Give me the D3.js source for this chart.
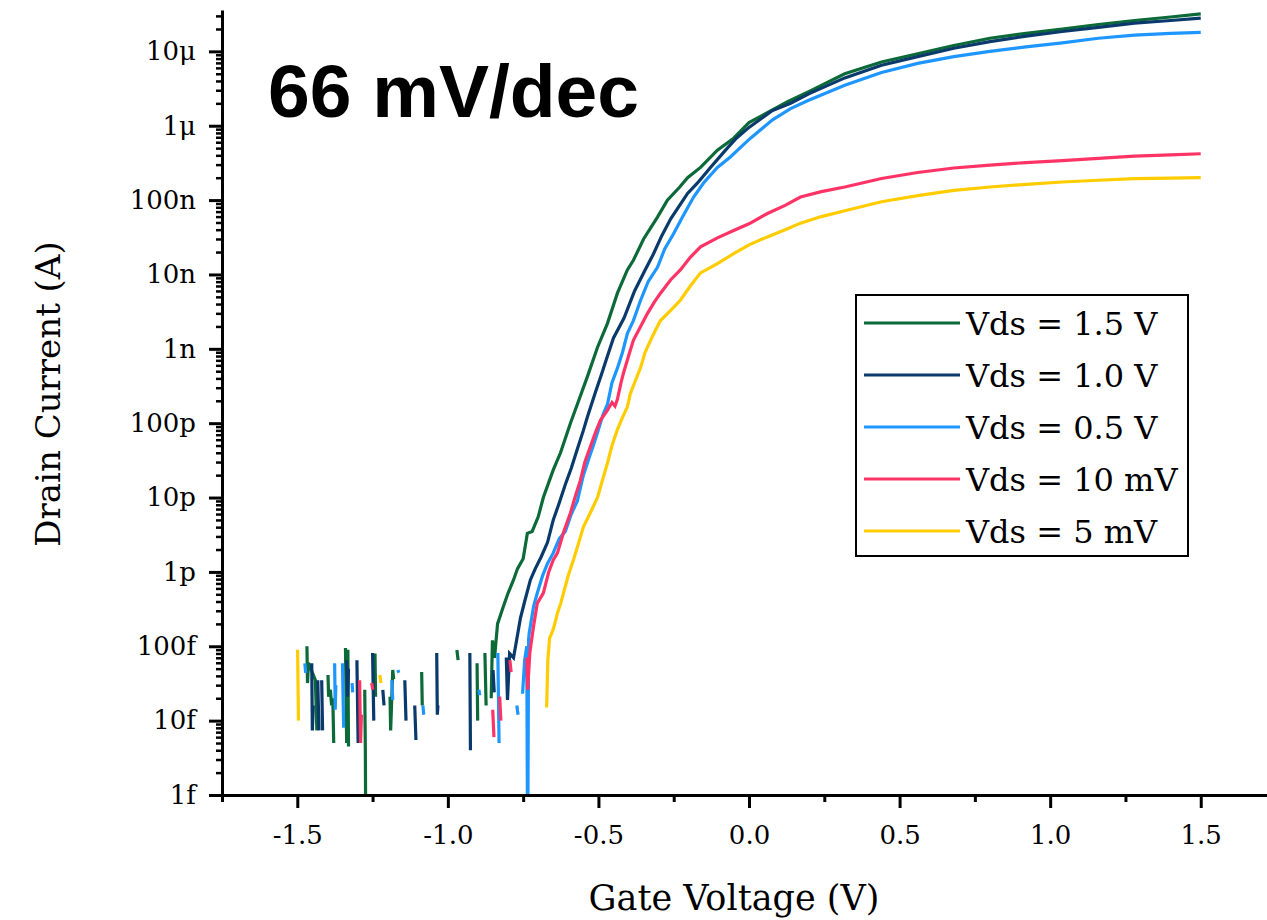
<!DOCTYPE html>
<html>
<head>
<meta charset="utf-8">
<script src="https://cdn.jsdelivr.net/npm/d3@7"></script>
<style>
  body { margin: 0; background: #fff; }
  .axis path, .axis line { stroke: #000; }
  .axis text { font-family: "DejaVu Serif", serif; fill: #000; }
</style>
</head>
<body>
<div id="chart"></div>
<script>
// [gate voltage (V), drain current (A)]; null = gap in the trace
var vds15 = [
  [-1.468, 1.0e-13], [-1.466, 3.2e-14], [-1.463, 6.0e-14], [-1.440, 3.5e-14], [-1.435, 7.4e-15], null,
  [-1.398, 4.1e-14], [-1.396, 2.1e-14], [-1.390, 2.6e-14], [-1.386, 1.6e-14], [-1.382, 2.0e-14], [-1.379, 5.0e-15], null,
  [-1.340, 9.5e-14], [-1.338, 2.0e-14], [-1.336, 5.0e-15], null,
  [-1.332, 9.0e-14], [-1.330, 4.5e-15], null,
  [-1.276, 2.6e-14], [-1.274, 4.0e-15], [-1.272, 1e-16], null,
  [-1.242, 8.0e-14], [-1.240, 2.1e-14], null,
  [-1.192, 2.1e-14], [-1.190, 7.4e-15], [-1.183, 4.8e-14], [-1.180, 3.6e-14], null,
  [-1.087, 4.5e-14], [-1.085, 1.6e-14], null,
  [-0.970, 8.9e-14], [-0.966, 6.5e-14], null,
  [-0.903, 5.9e-14], [-0.901, 1.0e-14], null,
  [-0.877, 8.1e-14], [-0.873, 1.6e-14], null,
  [-0.856, 2.0e-14], [-0.852, 1.2e-13], [-0.845, 7.0e-14], [-0.835, 2.0e-13], [-0.816, 3.4e-13],
  [-0.800, 5.2e-13], [-0.782, 7.8e-13], [-0.769, 1.1e-12], [-0.750, 1.5e-12], [-0.736, 3.3e-12],
  [-0.720, 3.5e-12], [-0.700, 5.5e-12], [-0.683, 1.0e-11], [-0.650, 2.35e-11], [-0.626, 4.0e-11],
  [-0.593, 1.0e-10], [-0.570, 1.8e-10], [-0.537, 4.2e-10], [-0.503, 1.05e-9], [-0.470, 2.2e-9],
  [-0.437, 5.6e-9], [-0.404, 1.15e-8], [-0.384, 1.55e-8], [-0.350, 3.0e-8], [-0.304, 5.9e-8],
  [-0.271, 1.0e-7], [-0.230, 1.5e-7], [-0.204, 2.0e-7], [-0.161, 2.75e-7], [-0.105, 4.7e-7],
  [-0.051, 6.8e-7], [0.000, 1.1e-6], [0.061, 1.5e-6], [0.128, 2.1e-6], [0.200, 2.9e-6],
  [0.318, 5.0e-6], [0.440, 7.2e-6], [0.560, 9.3e-6], [0.680, 1.2e-5], [0.800, 1.5e-5],
  [0.920, 1.75e-5], [1.040, 2.0e-5], [1.160, 2.3e-5], [1.280, 2.6e-5], [1.400, 2.9e-5], [1.500, 3.2e-5]
];
var vds10 = [
  [-1.452, 5.9e-14], [-1.450, 7.4e-15], [-1.447, 1.6e-14], null,
  [-1.432, 3.5e-14], [-1.428, 7.4e-15], null,
  [-1.419, 3.5e-14], [-1.416, 7.4e-15], null,
  [-1.336, 6.5e-14], [-1.333, 2.1e-14], [-1.330, 5.0e-14], null,
  [-1.302, 6.5e-14], [-1.298, 5.0e-15], null,
  [-1.250, 8.1e-14], [-1.246, 1.0e-14], null,
  [-1.216, 2.6e-14], [-1.212, 1.6e-14], null,
  [-1.143, 3.5e-14], [-1.139, 1.0e-14], null,
  [-1.110, 1.6e-14], [-1.106, 5.5e-15], null,
  [-1.037, 8.1e-14], [-1.035, 1.2e-14], [-1.033, 1.6e-14], null,
  [-0.927, 8.1e-14], [-0.925, 4.0e-15], null,
  [-0.850, 4.8e-14], [-0.846, 2.4e-14], null,
  [-0.806, 7.1e-14], [-0.802, 1.9e-14], [-0.795, 8.0e-14], [-0.782, 7.0e-14], [-0.769, 1.4e-13],
  [-0.759, 2.4e-13], [-0.745, 4.0e-13], [-0.726, 7.8e-13], [-0.710, 1.1e-12], [-0.690, 1.6e-12],
  [-0.669, 2.5e-12], [-0.650, 5.0e-12], [-0.630, 8.5e-12], [-0.610, 1.5e-11], [-0.590, 2.5e-11],
  [-0.570, 4.5e-11], [-0.550, 8.0e-11], [-0.537, 1.2e-10], [-0.510, 2.6e-10], [-0.490, 4.5e-10],
  [-0.470, 8.0e-10], [-0.450, 1.4e-9], [-0.415, 2.6e-9], [-0.380, 6.0e-9], [-0.345, 1.15e-8],
  [-0.317, 1.9e-8], [-0.290, 3.3e-8], [-0.260, 5.6e-8], [-0.204, 1.23e-7], [-0.171, 1.7e-7],
  [-0.128, 2.75e-7], [-0.078, 4.7e-7], [-0.042, 6.8e-7], [0.000, 9.5e-7], [0.078, 1.6e-6],
  [0.138, 2.0e-6], [0.200, 2.7e-6], [0.318, 4.4e-6], [0.440, 6.5e-6], [0.560, 8.5e-6],
  [0.680, 1.1e-5], [0.800, 1.35e-5], [0.920, 1.6e-5], [1.040, 1.85e-5], [1.160, 2.1e-5],
  [1.280, 2.4e-5], [1.400, 2.6e-5], [1.500, 2.8e-5]
];
var vds05 = [
  [-1.475, 5.9e-14], [-1.472, 4.4e-14], null,
  [-1.376, 5.9e-14], [-1.374, 1.4e-14], [-1.372, 3.0e-14], null,
  [-1.350, 5.9e-14], [-1.346, 8.0e-15], null,
  [-1.318, 3.2e-14], [-1.316, 2.4e-14], null,
  [-1.186, 3.5e-14], [-1.183, 1.9e-14], null,
  [-1.166, 4.8e-14], [-1.163, 4.4e-14], null,
  [-1.083, 1.6e-14], [-1.080, 1.2e-14], null,
  [-0.897, 2.6e-14], [-0.894, 2.2e-14], null,
  [-0.834, 8.1e-14], [-0.830, 5.0e-15], null,
  [-0.771, 1.6e-14], [-0.767, 1.2e-14], null,
  [-0.752, 2.3e-14], [-0.745, 6.5e-14], [-0.738, 1.0e-13], [-0.735, 1e-16], [-0.732, 1.2e-13],
  [-0.730, 1.5e-13], [-0.715, 3.5e-13], [-0.703, 5.2e-13], [-0.685, 9.0e-13], [-0.669, 1.3e-12],
  [-0.650, 1.8e-12], [-0.630, 2.8e-12], [-0.610, 3.5e-12], [-0.590, 6.0e-12], [-0.570, 9.0e-12],
  [-0.550, 2.0e-11], [-0.530, 3.5e-11], [-0.517, 5.0e-11], [-0.503, 7.5e-11], [-0.485, 1.3e-10],
  [-0.470, 1.8e-10], [-0.455, 3.5e-10], [-0.437, 5.5e-10], [-0.420, 9.0e-10], [-0.404, 1.6e-9],
  [-0.384, 2.4e-9], [-0.360, 4.5e-9], [-0.335, 8.0e-9], [-0.304, 1.25e-8], [-0.280, 2.2e-8],
  [-0.251, 3.5e-8], [-0.220, 6.0e-8], [-0.184, 1.1e-7], [-0.151, 1.7e-7], [-0.105, 2.75e-7],
  [-0.062, 3.8e-7], [-0.020, 5.5e-7], [0.005, 6.8e-7], [0.078, 1.2e-6], [0.138, 1.7e-6],
  [0.198, 2.2e-6], [0.318, 3.5e-6], [0.440, 5.2e-6], [0.560, 6.9e-6], [0.680, 8.5e-6],
  [0.800, 1.0e-5], [0.920, 1.15e-5], [1.040, 1.3e-5], [1.160, 1.5e-5], [1.280, 1.65e-5],
  [1.400, 1.75e-5], [1.500, 1.8e-5]
];
var vds10m = [
  [-1.293, 3.5e-14], [-1.290, 5.0e-15], [-1.287, 1.2e-14], null,
  [-1.253, 3.2e-14], [-1.249, 2.6e-14], null,
  [-0.851, 1.4e-14], [-0.847, 6.0e-15], null,
  [-0.828, 2.1e-14], [-0.824, 1.0e-14], null,
  [-0.794, 6.5e-14], [-0.790, 4.5e-14], null,
  [-0.738, 7.1e-14], [-0.735, 2.6e-14], [-0.728, 8.1e-14], [-0.716, 1.8e-13], [-0.703, 3.8e-13],
  [-0.683, 5.2e-13], [-0.665, 1.0e-12], [-0.650, 1.45e-12], [-0.636, 1.8e-12], [-0.615, 3.5e-12],
  [-0.593, 6.2e-12], [-0.575, 1.1e-11], [-0.560, 1.7e-11], [-0.545, 3.0e-11], [-0.527, 4.8e-11],
  [-0.510, 7.5e-11], [-0.493, 1.1e-10], [-0.470, 1.5e-10], [-0.455, 1.9e-10], [-0.445, 1.7e-10],
  [-0.437, 2.1e-10], [-0.425, 3.5e-10], [-0.417, 4.7e-10], [-0.400, 8.0e-10], [-0.384, 1.3e-9],
  [-0.360, 2.0e-9], [-0.337, 3.0e-9], [-0.315, 4.2e-9], [-0.294, 5.6e-9], [-0.260, 8.5e-9],
  [-0.228, 1.15e-8], [-0.195, 1.7e-8], [-0.161, 2.35e-8], [-0.105, 3.1e-8], [-0.051, 3.9e-8],
  [0.000, 4.8e-8], [0.061, 6.6e-8], [0.120, 8.5e-8], [0.171, 1.1e-7], [0.240, 1.3e-7],
  [0.318, 1.5e-7], [0.440, 1.95e-7], [0.560, 2.35e-7], [0.680, 2.7e-7], [0.800, 2.95e-7],
  [0.920, 3.2e-7], [1.040, 3.4e-7], [1.160, 3.65e-7], [1.280, 3.9e-7], [1.400, 4.05e-7], [1.500, 4.2e-7]
];
var vds5m = [
  [-1.499, 9.0e-14], [-1.496, 1.0e-14], null,
  [-1.226, 4.1e-14], [-1.222, 3.2e-14], null,
  [-0.672, 1.5e-14], [-0.668, 6.5e-14], [-0.662, 1.3e-13], [-0.655, 1.5e-13], [-0.648, 1.8e-13],
  [-0.636, 2.8e-13], [-0.625, 3.8e-13], [-0.616, 5.2e-13], [-0.600, 9.0e-13], [-0.583, 1.45e-12],
  [-0.565, 2.5e-12], [-0.550, 4.0e-12], [-0.525, 6.5e-12], [-0.503, 1.0e-11], [-0.485, 1.8e-11],
  [-0.470, 2.9e-11], [-0.455, 5.0e-11], [-0.437, 8.2e-11], [-0.420, 1.2e-10], [-0.404, 1.65e-10],
  [-0.394, 2.5e-10], [-0.380, 3.5e-10], [-0.360, 5.6e-10], [-0.345, 9.0e-10], [-0.327, 1.3e-9],
  [-0.310, 1.8e-9], [-0.294, 2.4e-9], [-0.260, 3.3e-9], [-0.228, 4.5e-9], [-0.195, 7.0e-9],
  [-0.161, 1.05e-8], [-0.105, 1.4e-8], [-0.051, 1.9e-8], [0.000, 2.5e-8], [0.061, 3.2e-8],
  [0.120, 4.0e-8], [0.171, 4.9e-8], [0.240, 6.0e-8], [0.318, 7.2e-8], [0.440, 9.5e-8],
  [0.560, 1.15e-7], [0.680, 1.35e-7], [0.800, 1.5e-7], [0.920, 1.63e-7], [1.040, 1.75e-7],
  [1.160, 1.85e-7], [1.280, 1.95e-7], [1.400, 1.98e-7], [1.500, 2.0e-7]
];

var seriesData = [vds15, vds10, vds05, vds10m, vds5m];
var seriesNames = ["Vds = 1.5 V", "Vds = 1.0 V", "Vds = 0.5 V", "Vds = 10 mV", "Vds = 5 mV"];
var seriesColors = ["#0b6a38", "#0a3a6c", "#1e96ff", "#ff3366", "#ffcc00"];

var yTickValues = [1e-15, 1e-14, 1e-13, 1e-12, 1e-11, 1e-10, 1e-9, 1e-8, 1e-7, 1e-6, 1e-5];
var yTickLabels = ["1f", "10f", "100f", "1p", "10p", "100p", "1n", "10n", "100n", "1\u03bc", "10\u03bc"];
var xTickValues = [-1.5, -1.0, -0.5, 0.0, 0.5, 1.0, 1.5];
var xMinorValues = [-1.75, -1.25, -0.75, -0.25, 0.25, 0.75, 1.25];

var width = 1267, height = 920;

var svg = d3.select("#chart").append("svg")
  .attr("width", width)
  .attr("height", height);

var x = d3.scaleLinear().domain([-1.75, 1.73]).range([222, 1270]);
var y = d3.scaleLog().domain([1e-15, 3.6e-5]).range([795, 10]);

svg.append("clipPath").attr("id", "plot")
  .append("rect").attr("x", 222).attr("y", 0).attr("width", width - 222).attr("height", 795);

// traces
var line = d3.line()
  .defined(function(d) { return d !== null; })
  .x(function(d) { return x(d[0]); })
  .y(function(d) { return y(d[1]); });

svg.append("g").attr("clip-path", "url(#plot)")
  .selectAll("path")
  .data(seriesData)
  .enter().append("path")
  .attr("d", line)
  .attr("fill", "none")
  .attr("stroke", function(d, i) { return seriesColors[i]; })
  .attr("stroke-width", 3.2)
  .attr("stroke-linejoin", "miter");

// y axis: minor ticks then major
var yMinor = y.ticks(20).filter(function(v) { return yTickValues.indexOf(v) < 0; });
svg.append("g").attr("class", "axis")
  .attr("transform", "translate(222,0)")
  .call(d3.axisLeft(y).tickValues(yMinor).tickFormat("").tickSize(6).tickSizeOuter(0))
  .call(function(g) { g.select(".domain").remove(); g.selectAll("line").attr("stroke-width", 2.5); });

svg.append("g").attr("class", "axis")
  .attr("transform", "translate(222,0)")
  .call(d3.axisLeft(y).tickValues(yTickValues)
    .tickFormat(function(d, i) { return yTickLabels[i]; })
    .tickSize(13).tickPadding(13).tickSizeOuter(0))
  .call(function(g) {
    g.select(".domain").attr("stroke-width", 3);
    g.selectAll("line").attr("stroke-width", 3);
    g.selectAll("text").attr("font-size", "26px");
  });

// x axis
svg.append("g").attr("class", "axis")
  .attr("transform", "translate(0,795)")
  .call(d3.axisBottom(x).tickValues(xMinorValues).tickFormat("").tickSize(7).tickSizeOuter(0))
  .call(function(g) { g.select(".domain").remove(); g.selectAll("line").attr("stroke-width", 3); });

svg.append("g").attr("class", "axis")
  .attr("transform", "translate(0,795)")
  .call(d3.axisBottom(x).tickValues(xTickValues)
    .tickFormat(function(d) { return d.toFixed(1); })
    .tickSize(13).tickPadding(18).tickSizeOuter(0))
  .call(function(g) {
    g.select(".domain").attr("stroke-width", 3);
    g.selectAll("line").attr("stroke-width", 3);
    g.selectAll("text").attr("font-size", "26px");
  });

// axis titles
svg.append("text")
  .attr("x", 734).attr("y", 910)
  .attr("text-anchor", "middle")
  .attr("font-family", "DejaVu Serif, serif")
  .attr("font-size", "35px")
  .text("Gate Voltage (V)");

svg.append("text")
  .attr("transform", "translate(60,394) rotate(-90)")
  .attr("text-anchor", "middle")
  .attr("font-family", "DejaVu Serif, serif")
  .attr("font-size", "34px")
  .text("Drain Current (A)");

// slope annotation
svg.append("text")
  .attr("x", 268).attr("y", 117)
  .attr("font-family", "Liberation Sans, Arial, sans-serif")
  .attr("font-weight", "bold")
  .attr("font-size", "75px")
  .text("66 mV/dec");

// legend
var legend = svg.append("g").attr("transform", "translate(856,295)");
legend.append("rect")
  .attr("width", 332).attr("height", 261)
  .attr("fill", "#fff").attr("stroke", "#000").attr("stroke-width", 2);

var items = legend.selectAll(".item")
  .data(seriesNames)
  .enter().append("g")
  .attr("transform", function(d, i) { return "translate(0," + (28 + i * 52) + ")"; });

items.append("line")
  .attr("x1", 8).attr("x2", 104)
  .attr("stroke", function(d, i) { return seriesColors[i]; })
  .attr("stroke-width", 3);

items.append("text")
  .attr("x", 110).attr("dy", "0.36em")
  .attr("font-family", "DejaVu Serif, serif")
  .attr("font-size", "32px")
  .text(function(d) { return d; });
</script>
</body>
</html>
